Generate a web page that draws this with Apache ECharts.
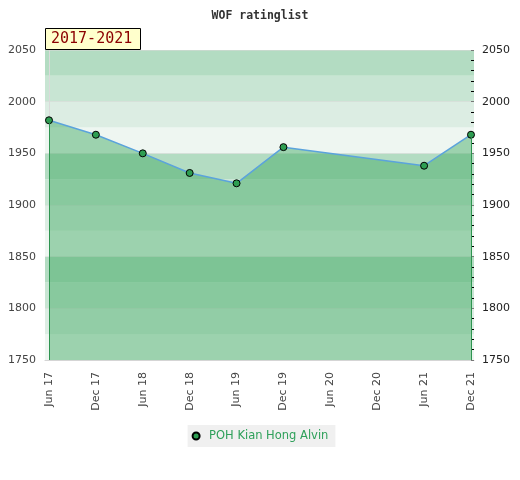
<!DOCTYPE html>
<html>
<head>
<meta charset="utf-8">
<style>html,body{margin:0;padding:0;background:#fff;}#c{width:520px;height:480px;}</style>
<script src="https://cdn.jsdelivr.net/npm/echarts@6/dist/echarts.min.js"></script>
</head>
<body>
<div id="c"></div>
<script>
var categories = ['Jun 17','Dec 17','Jun 18','Dec 18','Jun 19','Dec 19','Jun 20','Dec 20','Jun 21','Dec 21'];
var ratings = [1982, 1968, 1950, 1931, 1921, 1956, null, null, 1938, 1968];
var yLabels = [1750, 1800, 1850, 1900, 1950, 2000, 2050];
var seriesName = 'POH Kian Hong Alvin';
var periodLabel = '2017-2021';
var titleText = 'WOF ratinglist';

var points = [];
ratings.forEach(function (v, i) { if (v !== null) points.push([i, v]); });
var firstPt = points[0], lastPt = points[points.length - 1];
var yMin = yLabels[0], yMax = yLabels[yLabels.length - 1];
function plain(v) { return String(v); }

var chart = echarts.init(document.getElementById('c'));
chart.setOption({
  animation: false,
  backgroundColor: '#fff',
  title: [
    { text: titleText, left: 'center', top: 5,
      textStyle: { fontFamily: 'DejaVu Sans Mono', fontWeight: 'bold', fontSize: 11.5, color: '#333' } },
    { text: periodLabel, left: 45, top: 28, padding: [4, 8, 3, 6],
      backgroundColor: '#ffffcc', borderColor: '#000', borderWidth: 1,
      textStyle: { fontFamily: 'DejaVu Sans Mono', fontWeight: 'normal', fontSize: 15, color: '#8b0000' } }
  ],
  legend: {
    top: 425, left: 'center',
    backgroundColor: '#f0f0f0',
    padding: [5, 7, 5, 4],
    icon: 'circle', itemWidth: 16, itemHeight: 7,
    textStyle: { color: '#2ea05a', fontSize: 11.5, fontFamily: 'DejaVu Sans' },
    data: [seriesName]
  },
  grid: { left: 45, right: 46, top: 50, bottom: 120 },
  xAxis: {
    type: 'value', min: -0.085, max: 9.064,
    axisLine: { show: true, lineStyle: { color: '#d0d0d0' } },
    axisTick: { show: false },
    splitLine: { show: false },
    axisLabel: {
      customValues: categories.map(function (c, i) { return i; }),
      formatter: function (v) { return categories[Math.round(v)]; },
      rotate: 90, margin: 12, fontSize: 11, color: '#444', fontFamily: 'DejaVu Sans'
    }
  },
  yAxis: [
    { type: 'value', position: 'left', min: yMin, max: yMax, interval: 50,
      axisLine: { show: true, lineStyle: { color: '#dadada' } },
      axisTick: { show: false },
      axisLabel: { fontSize: 11, color: '#444', margin: 9, fontFamily: 'DejaVu Sans', formatter: plain },
      splitLine: { show: true, lineStyle: { color: '#d8d8d8', opacity: 0.55 } },
      splitArea: { show: false }, z: 3 },
    { type: 'value', position: 'right', min: yMin, max: yMax, interval: 50,
      axisLine: { show: false },
      axisTick: { show: true, inside: true, length: 3, lineStyle: { color: '#000' } },
      minorTick: { show: true, splitNumber: 5, length: 3, lineStyle: { color: '#000' } },
      axisLabel: { fontSize: 11, color: '#222', margin: 8, fontFamily: 'DejaVu Sans', formatter: plain },
      splitLine: { show: false } },
    { type: 'value', position: 'left', min: yMin, max: yMax, interval: 25, show: true,
      axisLine: { show: false }, axisTick: { show: false }, axisLabel: { show: false },
      splitLine: { show: false },
      splitArea: { show: true, areaStyle: { color: ['#eef6f1', '#dcede3', '#c8e5d3', '#b3dcc2'] } } }
  ],
  series: [{
    name: seriesName,
    type: 'line',
    data: points,
    symbol: 'circle', symbolSize: 7,
    lineStyle: { color: '#5ba3dc', width: 1.5 },
    itemStyle: { color: '#2e9e52', borderColor: '#000', borderWidth: 1 },
    areaStyle: { color: 'rgba(63,170,97,0.47)', opacity: 1, origin: 'start' },
    markLine: {
      silent: true, symbol: 'none', label: { show: false },
      lineStyle: { color: '#2e9450', width: 1, type: 'solid', opacity: 1 },
      data: [
        [{ coord: [firstPt[0], firstPt[1]] }, { coord: [firstPt[0], yMin] }],
        [{ coord: [lastPt[0], lastPt[1]] }, { coord: [lastPt[0], yMin] }]
      ]
    },
    z: 4
  }]
});
</script>
</body>
</html>
